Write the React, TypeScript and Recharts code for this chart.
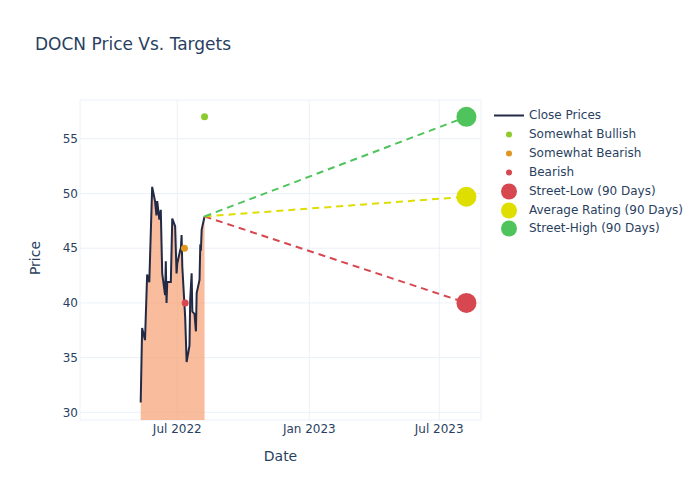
import React from 'react';
import { ComposedChart, Area, Line, Scatter, XAxis, YAxis, CartesianGrid } from 'recharts';

const closeDates = [
  '2022-05-11', '2022-05-13', '2022-05-17', '2022-05-18', '2022-05-20', '2022-05-23', '2022-05-27', '2022-05-31',
  '2022-06-02', '2022-06-03', '2022-06-06', '2022-06-08', '2022-06-10', '2022-06-14', '2022-06-15', '2022-06-16',
  '2022-06-17', '2022-06-22', '2022-06-24', '2022-06-28', '2022-06-30', '2022-07-01', '2022-07-05', '2022-07-06',
  '2022-07-07', '2022-07-08', '2022-07-12', '2022-07-14', '2022-07-18', '2022-07-19', '2022-07-21', '2022-07-22',
  '2022-07-25', '2022-07-27', '2022-07-28', '2022-08-01', '2022-08-02', '2022-08-03', '2022-08-04', '2022-08-08',
];
const closePrices = [
  30.9, 37.7, 36.6, 38.6, 42.6, 41.9, 50.6, 49.3,
  48.0, 49.3, 47.6, 48.5, 42.7, 40.7, 43.8, 40.0,
  41.9, 41.9, 47.7, 47.0, 42.7, 43.6, 44.8, 45.0,
  46.2, 43.3, 38.7, 34.6, 36.1, 40.3, 42.7, 39.2,
  39.0, 37.4, 40.9, 42.1, 45.1, 45.0, 46.7, 47.9,
];

const ratingNames = ['Somewhat Bullish', 'Somewhat Bearish', 'Bearish'];
const ratingDates = ['2022-08-08', '2022-07-11', '2022-07-12'];
const ratingValues = [57, 45, 40];
const ratingColors = ['#8CCB2C', '#E0951F', '#D6474F'];

const targetNames = ['Street-Low (90 Days)', 'Average Rating (90 Days)', 'Street-High (90 Days)'];
const targetDate = '2023-08-08';
const targetValues = [40, 49.7, 57];
const targetColors = ['#D6474F', '#DEDE00', '#4FC45C'];

const xTickDates = ['2022-07-01', '2023-01-01', '2023-07-01'];
const yTicks = [30, 35, 40, 45, 50, 55];
const monthNames = ['Jan', 'Feb', 'Mar', 'Apr', 'May', 'Jun', 'Jul', 'Aug', 'Sep', 'Oct', 'Nov', 'Dec'];

const X_MIN = Date.UTC(2022, 1, 15, 10);
const X_MAX = Date.UTC(2023, 7, 28, 7);

const closeData = closeDates.map((d, i) => ({ t: Date.parse(d), v: closePrices[i] }));
const lastClose = closeData[closeData.length - 1];
const targetLines = targetValues.map((v) => [
  { t: lastClose.t, v: lastClose.v },
  { t: Date.parse(targetDate), v },
]);
const targetPoints = targetValues.map((v) => [{ t: Date.parse(targetDate), v }]);
const ratingPoints = ratingValues.map((v, i) => [{ t: Date.parse(ratingDates[i]), v }]);
const xTicks = xTickDates.map((d) => Date.parse(d));

const TEXT = '#2a3f5f';
const FONT = '"DejaVu Sans", sans-serif';

const fmtX = (t: number) => {
  const d = new Date(t);
  return `${monthNames[d.getUTCMonth()]} ${d.getUTCFullYear()}`;
};

const dot = (r: number, color: string) => (p: any) =>
  p.cx == null ? <g /> : <circle cx={p.cx} cy={p.cy} r={r} fill={color} />;

export default function App() {
  const legendItems: { name: string; kind: string; color: string }[] = [
    { name: 'Close Prices', kind: 'line', color: '#222a45' },
    ...ratingNames.map((n, i) => ({ name: n, kind: 'small', color: ratingColors[i] })),
    ...targetNames.map((n, i) => ({ name: n, kind: 'big', color: targetColors[i] })),
  ];
  return (
    <div style={{ position: 'absolute', left: 0, top: 0, width: 700, height: 500, background: '#fff', fontFamily: FONT }}>
      <div style={{ position: 'absolute', left: 35, top: 32, fontSize: 17, color: TEXT, lineHeight: '24px', whiteSpace: 'nowrap' }}>
        DOCN Price Vs. Targets
      </div>
      <ComposedChart
        width={700}
        height={500}
        data={closeData}
        margin={{ top: 100, right: 219, bottom: 50, left: 40 }}
        style={{ fontFamily: FONT }}
      >
        <CartesianGrid stroke="#EBF0F8" strokeWidth={1} />
        <XAxis
          dataKey="t"
          type="number"
          scale="time"
          domain={[X_MIN, X_MAX]}
          allowDataOverflow
          ticks={xTicks}
          tickFormatter={fmtX}
          interval={0}
          axisLine={false}
          tickLine={false}
          tickSize={0}
          tickMargin={4}
          height={30}
          tick={{ fill: TEXT, fontSize: 12, fontFamily: FONT }}
        />
        <YAxis
          type="number"
          domain={[29.3, 58.54]}
          allowDataOverflow
          ticks={yTicks}
          interval={0}
          axisLine={false}
          tickLine={false}
          tickSize={0}
          tickMargin={2}
          width={40}
          tick={{ fill: TEXT, fontSize: 12, fontFamily: FONT }}
        />
        <Area
          dataKey="v"
          type="linear"
          stroke="#222a45"
          strokeWidth={2}
          fill="#F7A072"
          fillOpacity={0.7}
          isAnimationActive={false}
        />
        {targetLines.map((d, i) => (
          <Line
            key={'tl' + i}
            data={d}
            dataKey="v"
            type="linear"
            stroke={targetColors[i]}
            strokeWidth={2}
            strokeDasharray="7 5"
            dot={false}
            activeDot={false}
            isAnimationActive={false}
          />
        ))}
        {ratingPoints.map((d, i) => (
          <Scatter
            key={'rp' + i}
            data={d}
            dataKey="v"
            shape={dot(3.5, ratingColors[i])}
            isAnimationActive={false}
          />
        ))}
        {targetPoints.map((d, i) => (
          <Scatter
            key={'tp' + i}
            data={d}
            dataKey="v"
            shape={dot(10, targetColors[i])}
            isAnimationActive={false}
          />
        ))}
      </ComposedChart>
      <div style={{ position: 'absolute', left: 0, width: 561, top: 446, textAlign: 'center', fontSize: 14, color: TEXT, lineHeight: '20px' }}>
        Date
      </div>
      <div
        style={{
          position: 'absolute',
          left: 35,
          top: 258,
          fontSize: 14,
          color: TEXT,
          lineHeight: '20px',
          transform: 'translate(-50%, -50%) rotate(-90deg)',
          whiteSpace: 'nowrap',
        }}
      >
        Price
      </div>
      <div style={{ position: 'absolute', left: 490, top: 106 }}>
        {legendItems.map((it, i) => (
          <div key={it.name} style={{ position: 'absolute', left: 0, top: i * 18.9, height: 19, width: 210, whiteSpace: 'nowrap' }}>
            <svg width={34} height={19} style={{ position: 'absolute', left: 0, top: 0 }}>
              {it.kind === 'line' && <line x1={4} x2={34} y1={9.5} y2={9.5} stroke={it.color} strokeWidth={2} />}
              {it.kind === 'small' && <circle cx={19} cy={9.5} r={3} fill={it.color} />}
              {it.kind === 'big' && <circle cx={19} cy={9.5} r={8} fill={it.color} />}
            </svg>
            <span style={{ position: 'absolute', left: 39, top: 0, fontSize: 12, lineHeight: '19px', color: TEXT }}>{it.name}</span>
          </div>
        ))}
      </div>
    </div>
  );
}
